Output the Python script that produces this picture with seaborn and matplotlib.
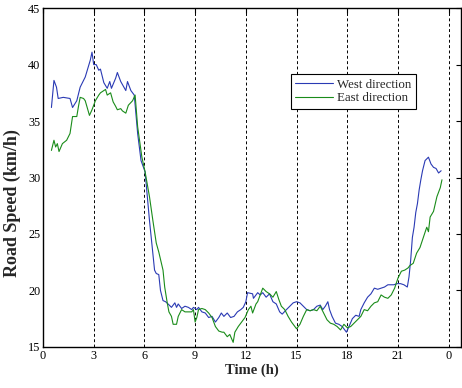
import numpy as np
import pandas as pd
import seaborn as sns
import matplotlib
matplotlib.use("Agg")
import matplotlib.pyplot as plt

# values
west_hours = [0.5, 0.65, 0.8, 0.9, 1.2, 1.6, 1.75, 2.0, 2.2, 2.5, 2.8, 2.9, 3.0,
              3.15, 3.3, 3.4, 3.6, 3.8, 3.95, 4.05, 4.3, 4.4, 4.6, 4.9, 5.0,
              5.2, 5.4, 5.6, 5.8, 6.04, 6.3, 6.5, 6.6, 6.7, 6.85, 6.95, 7.1,
              7.25, 7.4, 7.6, 7.8, 7.9, 8.0, 8.2, 8.4, 8.6, 8.8, 8.9, 9.1,
              9.2, 9.4, 9.6, 9.8, 10.0, 10.2, 10.4, 10.55, 10.7, 10.9, 11.1,
              11.3, 11.5, 11.7, 11.85, 12.0, 12.1, 12.4, 12.45, 12.7, 12.85,
              13.0, 13.2, 13.4, 13.6, 13.8, 14.0, 14.15, 14.4, 14.6, 14.8,
              15.0, 15.2, 15.4, 15.6, 15.8, 16.0, 16.2, 16.4, 16.55, 16.7,
              16.85, 16.95, 17.1, 17.3, 17.5, 17.7, 17.85, 17.95, 18.1, 18.3,
              18.5, 18.7, 18.8, 19.0, 19.2, 19.4, 19.6, 19.8, 20.0, 20.2,
              20.4, 20.6, 20.75, 20.95, 21.15, 21.35, 21.55, 21.65, 21.75,
              21.85, 21.95, 22.05, 22.15, 22.25, 22.35, 22.45, 22.6, 22.8,
              22.95, 23.1, 23.25, 23.4, 23.55]
west_speed = [36.2, 38.6, 38.0, 37.0, 37.1, 37.0, 36.2, 36.8, 38.0, 38.9, 40.4,
              41.1, 40.0, 40.0, 39.5, 39.6, 38.4, 37.9, 38.5, 37.9, 38.8, 39.3,
              38.5, 37.7, 38.5, 37.7, 37.3, 33.9, 31.5, 30.5, 26.2, 23.3, 21.8,
              21.5, 21.4, 20.0, 19.1, 19.0, 18.8, 18.5, 18.9, 18.5, 18.8, 18.4,
              18.6, 18.5, 18.3, 18.5, 18.3, 18.5, 18.1, 18.0, 17.6, 17.7, 17.2,
              17.6, 18.0, 17.7, 18.0, 17.6, 17.7, 18.1, 18.3, 18.5, 19.0, 19.8,
              19.7, 19.3, 19.8, 19.6, 19.8, 19.4, 19.7, 19.0, 18.8, 18.1, 17.9,
              18.3, 18.6, 18.9, 19.0, 18.9, 18.6, 18.3, 18.2, 18.3, 18.6, 18.7,
              18.3, 18.6, 19.0, 18.3, 17.7, 17.1, 17.0, 16.8, 16.5, 16.3, 16.8,
              17.5, 17.8, 17.7, 18.3, 18.9, 19.4, 19.7, 20.2, 20.1, 20.2, 20.3,
              20.5, 20.5, 20.5, 20.6, 20.6, 20.5, 20.3, 21.2, 22.7, 24.7, 25.6,
              26.9, 27.7, 28.9, 29.8, 30.6, 31.5, 31.8, 31.2, 30.9, 30.8, 30.4,
              30.6]

east_hours = [0.5, 0.65, 0.75, 0.85, 0.95, 1.15, 1.4, 1.6, 1.75, 2.0, 2.1, 2.2,
              2.4, 2.5, 2.75, 2.9, 3.1, 3.3, 3.4, 3.6, 3.7, 3.8, 4.0, 4.15, 4.3,
              4.4, 4.6, 4.7, 4.9, 5.05, 5.3, 5.45, 5.6, 5.85, 6.04, 6.3, 6.5,
              6.7, 6.85, 7.1, 7.2, 7.35, 7.45, 7.6, 7.7, 7.9, 8.0, 8.2, 8.4,
              8.6, 8.8, 8.9, 9.0, 9.1, 9.2, 9.4, 9.6, 9.8, 10.0, 10.2, 10.4,
              10.6, 10.7, 10.9, 11.05, 11.25, 11.35, 11.55, 11.75, 11.95, 12.15,
              12.3, 12.4, 12.6, 12.7, 12.8, 13.0, 13.2, 13.4, 13.6, 13.8, 13.95,
              14.1, 14.3, 14.5, 14.7, 14.9, 15.0, 15.2, 15.4, 15.6, 15.8, 16.0,
              16.2, 16.4, 16.6, 16.8, 17.0, 17.2, 17.4, 17.6, 17.8, 18.0, 18.2,
              18.4, 18.6, 18.8, 19.0, 19.2, 19.4, 19.6, 19.8, 20.0, 20.2, 20.4,
              20.6, 20.8, 21.0, 21.2, 21.4, 21.6, 21.7, 21.9, 22.1, 22.3, 22.5,
              22.7, 22.8, 22.9, 23.1, 23.3, 23.5, 23.6]
east_speed = [32.4, 33.3, 32.7, 33.0, 32.3, 33.0, 33.3, 33.9, 35.4, 35.4, 36.3,
              37.1, 37.0, 36.8, 35.5, 36.0, 36.8, 37.3, 37.5, 37.7, 37.8, 37.3,
              37.5, 36.7, 36.3, 36.0, 36.1, 35.9, 35.7, 36.4, 36.8, 37.3, 34.5,
              31.8, 30.5, 28.3, 26.2, 24.2, 23.4, 21.8, 20.3, 18.9, 18.1, 17.7,
              17.0, 17.0, 17.7, 18.3, 18.1, 18.1, 18.1, 18.3, 17.2, 17.6, 18.3,
              18.4, 18.3, 18.0, 17.6, 16.8, 16.4, 16.3, 16.3, 15.9, 16.1, 15.4,
              16.3, 16.8, 17.2, 17.6, 18.3, 18.6, 18.0, 18.8, 19.0, 19.4, 20.2,
              19.9, 19.7, 19.4, 19.9, 19.2, 18.6, 18.3, 17.7, 17.2, 16.8, 16.6,
              17.0, 17.7, 18.3, 18.2, 18.3, 18.2, 18.6, 18.0, 17.4, 17.1, 17.0,
              16.8, 16.5, 17.0, 16.7, 16.8, 17.1, 17.4, 17.7, 18.3, 18.2, 18.6,
              18.9, 19.0, 19.6, 19.4, 19.3, 19.6, 20.2, 21.1, 21.7, 21.8, 22.0,
              22.2, 22.4, 23.3, 23.8, 24.7, 25.6, 25.2, 26.5, 27.0, 28.3, 29.1,
              29.8]

x_ticks = [0, 3, 6, 9, 12, 15, 18, 21, 24]
x_tick_labels = ["0", "3", "6", "9", "12", "15", "18", "21", "0"]
y_ticks = [15, 20, 25, 30, 35, 40, 45]

df = pd.concat([
    pd.DataFrame({"hour": west_hours, "speed": west_speed,
                  "direction": "West direction"}),
    pd.DataFrame({"hour": east_hours, "speed": east_speed,
                  "direction": "East direction"}),
])

sns.set_style("white")
plt.rcParams["font.family"] = ["Liberation Serif", "DejaVu Serif"]

fig = plt.figure(figsize=(4.62, 3.88), dpi=100)
ax = fig.add_axes([0.093, 0.106, 0.905, 0.873])

sns.lineplot(data=df, x="hour", y="speed", hue="direction",
             palette={"West direction": "#2a3ab4", "East direction": "#1a8c1a"},
             estimator=None, sort=False, linewidth=0.8, ax=ax)

ax.set_xlim(0, 24.73)
ax.set_ylim(15, 45)
ax.set_xticks(x_ticks)
ax.set_xticklabels(x_tick_labels)
ax.set_yticks(y_ticks)
ax.tick_params(axis="both", which="both", direction="in", length=3.5,
               width=0.8, labelsize=8.8, top=True, right=True, pad=2,
               colors="black")
ax.grid(axis="x", linestyle=(0, (3, 2.5)), color="black", linewidth=0.7)
ax.grid(axis="y", visible=False)
for sp in ax.spines.values():
    sp.set_color("black")
    sp.set_linewidth(1.0)

ax.set_xlabel("Time (h)", fontsize=10.5, fontweight="bold", labelpad=1)
ax.set_ylabel("Road Speed (km/h)", fontsize=13, fontweight="bold")
ax.yaxis.set_label_coords(-0.053, 0.425)

leg = ax.legend(loc="upper left", bbox_to_anchor=(0.593, 0.805),
                fontsize=9.3, handlelength=2.9, fancybox=False,
                edgecolor="black", framealpha=1, borderpad=0.35,
                labelspacing=0.12, handletextpad=0.3, borderaxespad=0)
leg.get_frame().set_linewidth(0.8)

fig.savefig("out.png", dpi=100)
